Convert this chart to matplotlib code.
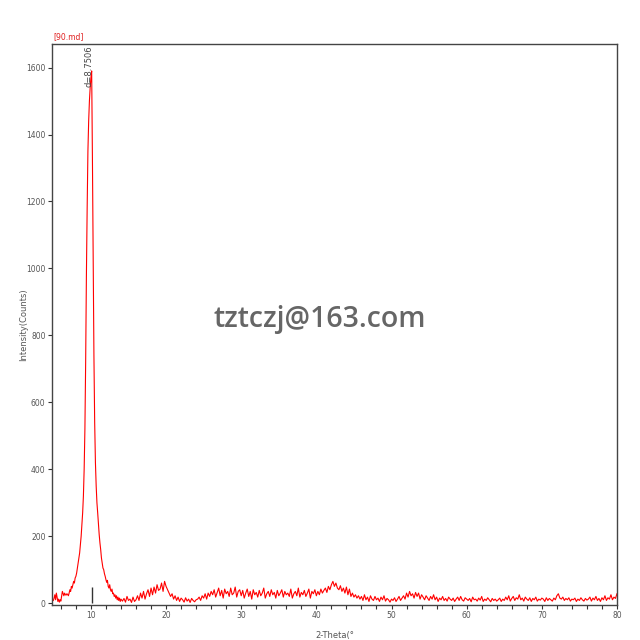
import numpy as np
import matplotlib
matplotlib.use("Agg")
import matplotlib.pyplot as plt
from matplotlib.ticker import MultipleLocator

# peak region, 5.0 .. 14.0 step 0.1
peak_start, peak_step = 5.0, 0.1
peak_counts = [
    8, 15, 25, 10, 30, 18, 5, 12, 3, 10,
    6, 20, 35, 28, 22, 30, 25, 24, 28, 26,
    22, 30, 40, 35, 50, 45, 55, 65, 60, 75,
    80, 90, 105, 120, 135, 150, 175, 200, 235, 270,
    320, 400, 520, 720, 980, 1180, 1350, 1440, 1500, 1540,
    1570, 1590, 1330, 1030, 740, 540, 420, 350, 300, 270,
    235, 205, 180, 160, 135, 120, 105, 100, 88, 80,
    70, 62, 68, 50, 45, 55, 40, 35, 42, 28,
    30, 20, 25, 15, 22, 10, 18, 8, 15, 5,
    12,
]

# background, 14.2 .. 80.0 step 0.2
bg_start, bg_step = 14.2, 0.2
bg_counts = [
    6, 14, 3, 20, 8, 12, 2, 18, 5, 10,
    22, 8, 30, 15, 35, 12, 28, 40, 20, 45,
    25, 48, 30, 55, 38, 42, 60, 35, 65, 50,
    40, 30, 20, 28, 12, 22, 8, 18, 5, 15,
    10, 3, 16, 6, 12, 2, 14, 8, 4, 10,
    12, 18, 8, 22, 15, 28, 12, 30, 20, 35,
    25, 40, 18, 32, 45, 22, 38, 15, 42, 28,
    35, 20, 45, 25, 30, 48, 18, 35, 40, 22,
    38, 15, 30, 42, 20, 35, 12, 40, 25, 32,
    18, 38, 22, 30, 45, 15, 28, 35, 20, 40,
    25, 32, 15, 38, 22, 30, 40, 18, 35, 25,
    30, 20, 42, 15, 28, 35, 22, 45, 18, 32,
    25, 38, 20, 30, 42, 15, 35, 28, 40, 22,
    35, 25, 42, 30, 38, 45, 32, 50, 40, 55,
    65, 50, 60, 45, 40, 52, 35, 45, 30, 48,
    25, 42, 20, 30, 18, 25, 15, 22, 12, 20,
    8, 25, 10, 18, 5, 22, 12, 8, 20, 10,
    15, 5, 18, 10, 22, 6, 14, 10, 3, 12,
    8, 16, 5, 12, 20, 8, 15, 22, 12, 30,
    18, 35, 22, 28, 15, 32, 20, 30, 12, 25,
    18, 10, 22, 15, 8, 20, 12, 25, 10, 18,
    5, 15, 10, 20, 8, 14, 6, 18, 12, 8,
    15, 5, 12, 18, 8, 20, 10, 6, 16, 12,
    8, 14, 4, 18, 10, 12, 6, 15, 9, 20,
    5, 12, 8, 16, 10, 4, 14, 8, 12, 6,
    10, 15, 5, 12, 8, 18, 10, 22, 6, 14,
    20, 8, 16, 12, 25, 10, 15, 6, 18, 12,
    8, 16, 5, 14, 10, 18, 6, 12, 9, 15,
    12, 5, 16, 8, 14, 10, 6, 15, 10, 22,
    28, 15, 12, 18, 8, 14, 10, 16, 6, 12,
    10, 15, 5, 12, 8, 16, 10, 6, 14, 9,
    12, 18, 6, 15, 10, 20, 8, 14, 5, 16,
    10, 22, 8, 16, 12, 25, 10, 18, 14, 28,
]

peak_pos = 10.1
peak_label = "d=8.7506"
stick_height = 48

x1 = peak_start + peak_step * np.arange(len(peak_counts))
x2 = bg_start + bg_step * np.arange(len(bg_counts))
two_theta = np.concatenate([x1, x2])
counts = np.array(peak_counts + bg_counts, dtype=float)

fig = plt.figure(figsize=(6.4, 6.4), dpi=100)
ax = fig.add_axes([0.081, 0.055, 0.883, 0.876])

ax.plot(two_theta, counts, color="#ff0000", lw=0.8)
ax.vlines(peak_pos, 0, stick_height, color="#333333", lw=1.0)
ax.text(peak_pos - 0.35, 1665, peak_label, rotation=90, ha="center", va="top",
        fontsize=6, color="#444444")

ax.set_xlim(4.8, 80)
ax.set_ylim(-5, 1670)
ax.xaxis.set_major_locator(MultipleLocator(10))
ax.xaxis.set_minor_locator(MultipleLocator(2))
ax.yaxis.set_major_locator(MultipleLocator(200))
ax.set_xticks(range(10, 81, 10))
ax.tick_params(axis="both", which="major", labelsize=5.5, colors="#333333",
               labelcolor="#555555", length=3, width=0.8, direction="out", pad=1.5)
ax.tick_params(axis="x", which="minor", length=3, width=0.8, colors="#333333")

for s in ax.spines.values():
    s.set_color("#444444")
    s.set_linewidth(1.0)

ax.set_xlabel("2-Theta(°", fontsize=6, color="#555555", labelpad=8)
ax.set_ylabel("Intensity(Counts)", fontsize=6, color="#555555")
ax.yaxis.set_label_coords(-0.042, 0.5)

fig.text(0.083, 0.935, "[90.md]", fontsize=5.5, color="#e02020", ha="left", va="bottom")

fig.text(0.5, 0.5, "tztczj@163.com", fontsize=20.5, color="#666666",
         fontfamily="Open Sans", fontweight="semibold", ha="center", va="center")

fig.savefig("out.png", dpi=100)
